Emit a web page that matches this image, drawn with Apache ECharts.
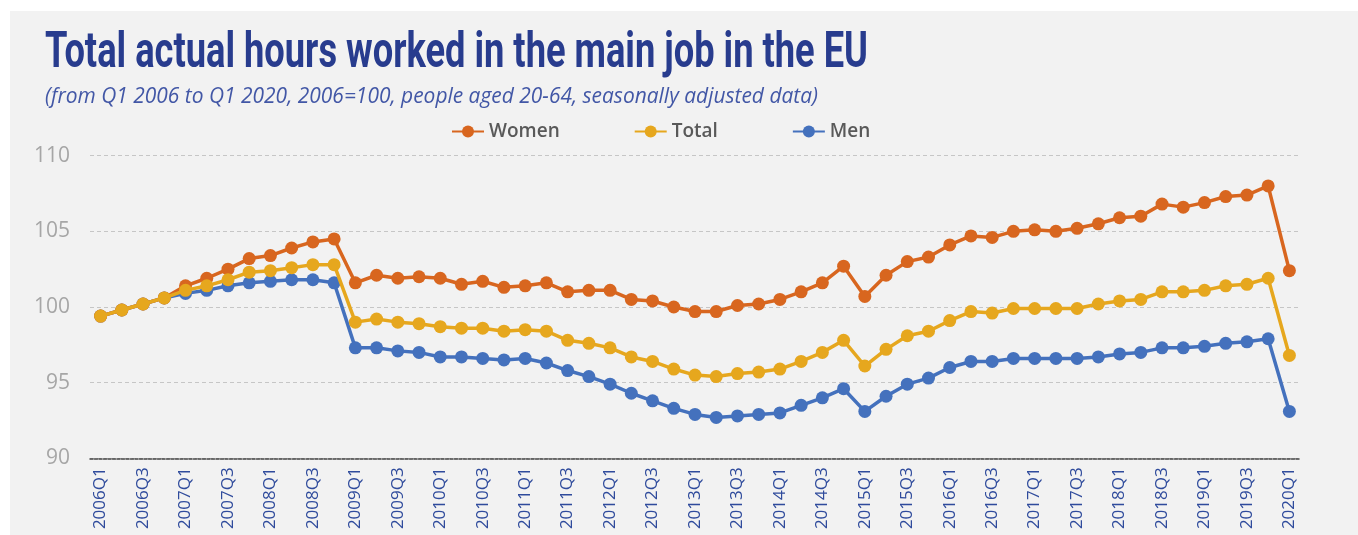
<!DOCTYPE html>
<html>
<head>
<meta charset="utf-8">
<script src="https://cdn.jsdelivr.net/npm/echarts@6/dist/echarts.min.js"></script>
<style>
  html, body { margin: 0; padding: 0; background: #ffffff; }
  #bg { position: absolute; left: 10px; top: 11px; width: 1348px; height: 524px; background: #f2f2f2; }
  #chart { position: absolute; left: 0; top: 0; width: 1358px; height: 535px; }
</style>
</head>
<body>
<div id="bg"></div>
<div id="chart"></div>
<script>
const titleText = 'Total actual hours worked in the main job in the EU';
const subtitleText = '(from Q1 2006 to Q1 2020, 2006=100, people aged 20-64, seasonally adjusted data)';

const categories = [
  '2006Q1','2006Q2','2006Q3','2006Q4',
  '2007Q1','2007Q2','2007Q3','2007Q4',
  '2008Q1','2008Q2','2008Q3','2008Q4',
  '2009Q1','2009Q2','2009Q3','2009Q4',
  '2010Q1','2010Q2','2010Q3','2010Q4',
  '2011Q1','2011Q2','2011Q3','2011Q4',
  '2012Q1','2012Q2','2012Q3','2012Q4',
  '2013Q1','2013Q2','2013Q3','2013Q4',
  '2014Q1','2014Q2','2014Q3','2014Q4',
  '2015Q1','2015Q2','2015Q3','2015Q4',
  '2016Q1','2016Q2','2016Q3','2016Q4',
  '2017Q1','2017Q2','2017Q3','2017Q4',
  '2018Q1','2018Q2','2018Q3','2018Q4',
  '2019Q1','2019Q2','2019Q3','2019Q4',
  '2020Q1'
];

const women = [
  99.4, 99.8, 100.2, 100.6,
  101.4, 101.9, 102.5, 103.2,
  103.4, 103.9, 104.3, 104.5,
  101.6, 102.1, 101.9, 102.0,
  101.9, 101.5, 101.7, 101.3,
  101.4, 101.6, 101.0, 101.1,
  101.1, 100.5, 100.4, 100.0,
  99.7, 99.7, 100.1, 100.2,
  100.5, 101.0, 101.6, 102.7,
  100.7, 102.1, 103.0, 103.3,
  104.1, 104.7, 104.6, 105.0,
  105.1, 105.0, 105.2, 105.5,
  105.9, 106.0, 106.8, 106.6,
  106.9, 107.3, 107.4, 108.0,
  102.4
];

const total = [
  99.4, 99.8, 100.2, 100.6,
  101.1, 101.4, 101.8, 102.3,
  102.4, 102.6, 102.8, 102.8,
  99.0, 99.2, 99.0, 98.9,
  98.7, 98.6, 98.6, 98.4,
  98.5, 98.4, 97.8, 97.6,
  97.3, 96.7, 96.4, 95.9,
  95.5, 95.4, 95.6, 95.7,
  95.9, 96.4, 97.0, 97.8,
  96.1, 97.2, 98.1, 98.4,
  99.1, 99.7, 99.6, 99.9,
  99.9, 99.9, 99.9, 100.2,
  100.4, 100.5, 101.0, 101.0,
  101.1, 101.4, 101.5, 101.9,
  96.8
];

const men = [
  99.4, 99.8, 100.2, 100.6,
  100.9, 101.1, 101.4, 101.6,
  101.7, 101.8, 101.8, 101.6,
  97.3, 97.3, 97.1, 97.0,
  96.7, 96.7, 96.6, 96.5,
  96.6, 96.3, 95.8, 95.4,
  94.9, 94.3, 93.8, 93.3,
  92.9, 92.7, 92.8, 92.9,
  93.0, 93.5, 94.0, 94.6,
  93.1, 94.1, 94.9, 95.3,
  96.0, 96.4, 96.4, 96.6,
  96.6, 96.6, 96.6, 96.7,
  96.9, 97.0, 97.3, 97.3,
  97.4, 97.6, 97.7, 97.9,
  93.1
];

const yTicks = { min: 90, max: 110, interval: 5 };

const COLORS = { women: '#d8661f', total: '#e6a71e', men: '#4471bd' };

function fitScale(text, font, target) {
  const c = document.createElement('canvas').getContext('2d');
  c.font = font;
  const w = c.measureText(text).width;
  return w > 0 ? target / w : 1;
}

const titleFont = 'bold 50px Roboto';
const subFont = 'italic 22px "Open Sans"';
const titleScale = fitScale(titleText, titleFont, 823);
const subScale = fitScale(subtitleText, subFont, 773);

const chart = echarts.init(document.getElementById('chart'), null, { renderer: 'canvas' });

function lineSeries(name, data, color, z) {
  return {
    name: name,
    type: 'line',
    data: data,
    z: z,
    symbol: 'circle',
    symbolSize: 13,
    showAllSymbol: true,
    lineStyle: { color: color, width: 3.5 },
    itemStyle: { color: color },
    emphasis: { disabled: true }
  };
}

chart.setOption({
  backgroundColor: 'transparent',
  animation: false,
  graphic: [
    {
      type: 'text', x: 45, y: 79, scaleX: titleScale, scaleY: 1,
      style: { text: titleText, x: 0, y: 0, font: titleFont, fill: '#283c8e', verticalAlign: 'bottom' }
    },
    {
      type: 'text', x: 45, y: 108, scaleX: subScale, scaleY: 1,
      style: { text: subtitleText, x: 0, y: 0, font: subFont, fill: '#4257a6', verticalAlign: 'bottom' }
    }
  ],
  legend: {
    data: ['Women', 'Total', 'Men'],
    left: 446,
    top: 117,
    itemWidth: 32,
    itemHeight: 15,
    itemGap: 74,
    textStyle: { color: '#595959', fontSize: 19, fontWeight: 600, fontFamily: 'Open Sans' }
  },
  grid: { left: 90, right: 58, top: 155.7, bottom: 76.7, containLabel: false },
  xAxis: {
    type: 'category',
    data: categories,
    boundaryGap: true,
    axisLine: { show: true, lineStyle: { color: '#444', width: 1.5, type: [3, 1.5] } },
    axisTick: { show: false },
    axisLabel: {
      interval: 1,
      rotate: 90,
      margin: 9,
      color: '#2f4b9c',
      fontSize: 17,
      fontFamily: 'Open Sans'
    },
    splitLine: { show: false }
  },
  yAxis: {
    type: 'value',
    min: yTicks.min,
    max: yTicks.max,
    interval: yTicks.interval,
    axisLine: { show: false },
    axisTick: { show: false },
    axisLabel: { color: '#a6a6a6', fontSize: 21, fontFamily: 'Open Sans', margin: 20 },
    splitLine: { lineStyle: { color: '#c6c6c6', width: 1, type: [4, 3] } }
  },
  series: [
    lineSeries('Women', women, COLORS.women, 3),
    lineSeries('Men', men, COLORS.men, 2),
    lineSeries('Total', total, COLORS.total, 4)
  ]
});
</script>
</body>
</html>
